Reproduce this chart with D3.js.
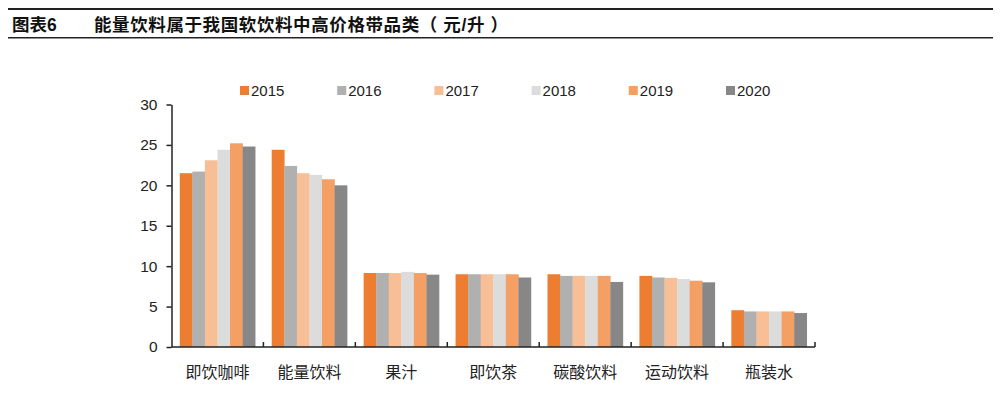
<!DOCTYPE html>
<html><head><meta charset="utf-8">
<script src="https://cdn.jsdelivr.net/npm/d3@7"></script>
<style>body{margin:0;background:#fff}svg{display:block}</style>
</head><body>
<svg id="c" width="1000" height="419"></svg>
<script>
const categories = ["即饮咖啡","能量饮料","果汁","即饮茶","碳酸饮料","运动饮料","瓶装水"];
const years = ["2015","2016","2017","2018","2019","2020"];
const v2015 = [21.5, 24.4, 9.15, 9.0, 9.0, 8.8, 4.55];
const v2016 = [21.7, 22.4, 9.15, 9.0, 8.8, 8.6, 4.4];
const v2017 = [23.1, 21.5, 9.15, 9.0, 8.8, 8.55, 4.4];
const v2018 = [24.4, 21.3, 9.3, 9.0, 8.8, 8.4, 4.4];
const v2019 = [25.2, 20.75, 9.15, 9.0, 8.8, 8.2, 4.4];
const v2020 = [24.8, 20.0, 8.95, 8.6, 8.05, 8.0, 4.2];
const series = [v2015, v2016, v2017, v2018, v2019, v2020];
const colors = ["#ED7D31","#B0B0B0","#F8BF96","#DCDCDC","#F4A064","#878787"];
const yTicks = [0,5,10,15,20,25,30];

const svg = d3.select("#c");
const font = "Arial, 'Liberation Sans', 'Noto Sans CJK SC', sans-serif";

// title lines
svg.append("rect").attr("x",8).attr("y",8).attr("width",985).attr("height",2).attr("fill","#222");
svg.append("rect").attr("x",8).attr("y",37).attr("width",985).attr("height",1.5).attr("fill","#222");
svg.append("text").attr("x",12).attr("y",31).attr("font-family",font).attr("font-size",17.5).attr("font-weight","bold").attr("fill","#111").text("图表6");
svg.append("text").attr("x",94).attr("y",31).attr("font-family",font).attr("font-size",17.5).attr("font-weight","bold")
  .attr("letter-spacing",0.6).attr("fill","#111").text("能量饮料属于我国软饮料中高价格带品类（ 元/升 ）");

const x0 = 171.5, x1 = 815, yTop = 104.5, yBot = 347;
const x = d3.scaleBand().domain(categories).range([x0, x1]).paddingInner(0.18).paddingOuter(0.09);
const xs = d3.scaleBand().domain(years).range([0, x.bandwidth()]);
const y = d3.scaleLinear().domain([0,30]).range([yBot, yTop]);

// bars
const g = svg.append("g");
categories.forEach((c, i) => {
  years.forEach((yr, j) => {
    const v = series[j][i];
    g.append("rect")
      .attr("x", x(c) + xs(yr))
      .attr("y", y(v))
      .attr("width", xs.bandwidth() + 0.3)
      .attr("height", y(0) - y(v))
      .attr("fill", colors[j]);
  });
});

// y axis
const yAxis = d3.axisLeft(y).tickValues(yTicks).tickSize(5).tickSizeOuter(0).tickPadding(9);
const ya = svg.append("g").attr("transform", `translate(${x0},0)`).call(yAxis);
ya.select(".domain").attr("stroke","#222").attr("stroke-width",1.5);
ya.selectAll(".tick line").attr("stroke","#222").attr("stroke-width",1.5);
ya.selectAll("text").attr("font-family",font).attr("font-size",15.5).attr("fill","#222");

// x axis with ticks at category boundaries
const bounds = d3.range(categories.length + 1).map(i => x0 + i * (x1 - x0) / categories.length);
const xa = svg.append("g");
xa.append("line").attr("x1",x0).attr("x2",x1).attr("y1",yBot).attr("y2",yBot).attr("stroke","#222").attr("stroke-width",1.5);
xa.selectAll("line.t").data(bounds.slice(1)).enter().append("line").attr("class","t")
  .attr("x1",d=>d).attr("x2",d=>d).attr("y1",yBot).attr("y2",yBot-5).attr("stroke","#222").attr("stroke-width",1.5);
xa.selectAll("text").data(categories).enter().append("text")
  .attr("x", d => x(d) + x.bandwidth()/2).attr("y", 378)
  .attr("text-anchor","middle").attr("font-family",font).attr("font-size",16).attr("fill","#222").text(d=>d);

// legend
const legX = d3.scalePoint().domain(years).range([240, 726]);
const leg = svg.append("g");
years.forEach((yr, j) => {
  leg.append("rect").attr("x", legX(yr)).attr("y", 86).attr("width", 9).attr("height", 9).attr("fill", colors[j]);
  leg.append("text").attr("x", legX(yr) + 11).attr("y", 96).attr("font-family",font).attr("font-size",15).attr("fill","#222").text(yr);
});
</script>
</body></html>
